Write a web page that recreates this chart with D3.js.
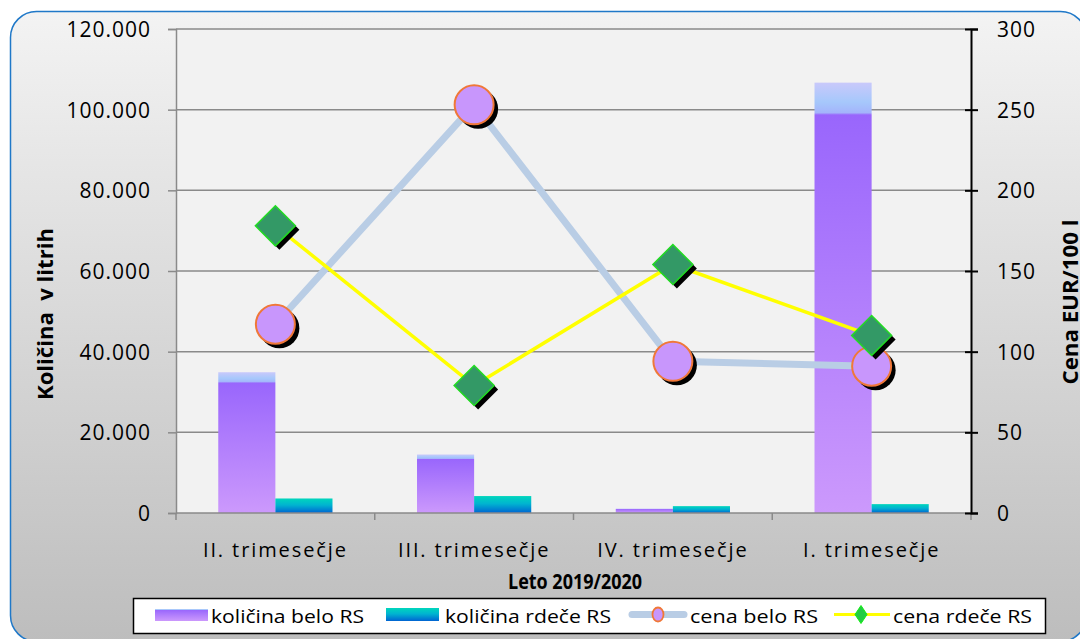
<!DOCTYPE html>
<html>
<head>
<meta charset="utf-8">
<script src="https://cdn.jsdelivr.net/npm/d3@7"></script>
<style>
  body { margin: 0; background: #ffffff; }
  svg text { font-family: "Open Sans", "Noto Sans", sans-serif; fill: #000; }
  .tick text { font-size: 21px; letter-spacing: 1px; }
  .cat-label { font-size: 20px; letter-spacing: 1.9px; }
  .axis-title { font-size: 21px; font-weight: bold; }
  .legend text { font-size: 19px; }
</style>
</head>
<body>
<div id="chart"></div>
<script>
// data
const categories = ["II. trimesečje", "III. trimesečje", "IV. trimesečje", "I. trimesečje"];
const kolicinaBelo = [34900, 14500, 1100, 106700];
const kolicinaRdece = [3600, 4200, 1700, 2200];
const cenaBelo = [117, 253, 94, 91];
const cenaRdece = [178, 79, 154, 110];
const leftTicks = [0, 20000, 40000, 60000, 80000, 100000, 120000];
const rightTicks = [0, 50, 100, 150, 200, 250, 300];
const seriesNames = ["količina belo RS", "količina rdeče RS", "cena belo RS", "cena rdeče RS"];

const width = 1080, height = 639;
const plot = { left: 176, right: 971, top: 29, bottom: 513 };

const svg = d3.select("#chart").append("svg")
    .attr("width", width)
    .attr("height", height);

const defs = svg.append("defs");

// background gradient of the chart frame
const bg = defs.append("linearGradient").attr("id", "bg").attr("x1", 0).attr("y1", 0).attr("x2", 0).attr("y2", 1);
bg.append("stop").attr("offset", 0).attr("stop-color", "#f3f3f3");
bg.append("stop").attr("offset", 1).attr("stop-color", "#bdbdbd");

// purple bar (highlight strip on top)
const gBelo = defs.append("linearGradient").attr("id", "gBelo").attr("x1", 0).attr("y1", 0).attr("x2", 0).attr("y2", 1);
[[0, "#c9c9fb"], [0.045, "#a6c8fb"], [0.07, "#a4b4fb"], [0.075, "#9966fc"], [1, "#cc99fc"]].forEach(s =>
    gBelo.append("stop").attr("offset", s[0]).attr("stop-color", s[1]));

// teal/blue bar
const gRdece = defs.append("linearGradient").attr("id", "gRdece").attr("x1", 0).attr("y1", 0).attr("x2", 0).attr("y2", 1);
[[0, "#00d6bc"], [0.45, "#00b4d0"], [1, "#0064d2"]].forEach(s =>
    gRdece.append("stop").attr("offset", s[0]).attr("stop-color", s[1]));

const shadow = defs.append("filter").attr("id", "blur").attr("x", "-50%").attr("y", "-50%").attr("width", "200%").attr("height", "200%");
shadow.append("feGaussianBlur").attr("stdDeviation", 0.7);

// frame
svg.append("rect")
    .attr("x", 10.5).attr("y", 11.5)
    .attr("width", 1076).attr("height", 630)
    .attr("rx", 26)
    .attr("fill", "url(#bg)")
    .attr("stroke", "#1f78c8")
    .attr("stroke-width", 1.5);

// plot area
svg.append("rect")
    .attr("x", plot.left).attr("y", plot.top)
    .attr("width", plot.right - plot.left).attr("height", plot.bottom - plot.top)
    .attr("fill", "#f2f2f2");

// scales
const x = d3.scaleBand()
    .domain(categories)
    .range([plot.left, plot.right])
    .padding(0);

const xSub = d3.scaleBand()
    .domain(["belo", "rdece"])
    .range([0, x.step()])
    .paddingInner(0)
    .paddingOuter(0.74);

const yLeft = d3.scaleLinear()
    .domain([0, 120000])
    .range([plot.bottom, plot.top]);

const yRight = d3.scaleLinear()
    .domain([0, 300])
    .range([plot.bottom, plot.top]);

const fmt = d3.formatLocale({ decimal: ",", thousands: ".", grouping: [3], currency: ["", " €"] }).format(",d");

// gridlines
svg.append("g")
    .selectAll("line")
    .data(leftTicks.slice(1))
    .join("line")
    .attr("x1", plot.left).attr("x2", plot.right)
    .attr("y1", d => yLeft(d)).attr("y2", d => yLeft(d))
    .attr("stroke", "#8a8a8a")
    .attr("stroke-width", 1.5);

// bars
const barData = [];
categories.forEach((c, i) => {
    barData.push({ cat: c, key: "belo", value: kolicinaBelo[i] });
    barData.push({ cat: c, key: "rdece", value: kolicinaRdece[i] });
});

svg.append("g")
    .selectAll("rect")
    .data(barData)
    .join("rect")
    .attr("x", d => x(d.cat) + xSub(d.key))
    .attr("width", xSub.bandwidth())
    .attr("y", d => yLeft(d.value))
    .attr("height", d => yLeft(0) - yLeft(d.value))
    .attr("fill", d => d.key === "belo" ? "url(#gBelo)" : "url(#gRdece)");

// left axis
const leftAxis = d3.axisLeft(yLeft)
    .tickValues(leftTicks)
    .tickSize(8)
    .tickPadding(17)
    .tickFormat(d => fmt(d));

const gl = svg.append("g")
    .attr("transform", `translate(${plot.left},0)`)
    .call(leftAxis);
gl.select(".domain").attr("stroke", "#8a8a8a").attr("stroke-width", 1.5);
gl.selectAll(".tick line").attr("stroke", "#8a8a8a").attr("stroke-width", 1.5);
gl.selectAll(".tick text").attr("font-family", null).attr("font-size", null).attr("dy", "0.36em");

// bottom axis (ticks between categories)
svg.append("line")
    .attr("x1", plot.left).attr("x2", plot.right)
    .attr("y1", plot.bottom).attr("y2", plot.bottom)
    .attr("stroke", "#8a8a8a").attr("stroke-width", 1.5);

const boundaries = categories.map(c => x(c)).concat([plot.right]);
svg.append("g")
    .selectAll("line")
    .data(boundaries)
    .join("line")
    .attr("x1", d => d).attr("x2", d => d)
    .attr("y1", plot.bottom).attr("y2", plot.bottom + 7)
    .attr("stroke", "#8a8a8a").attr("stroke-width", 1.5);

svg.append("g")
    .selectAll("text")
    .data(categories)
    .join("text")
    .attr("class", "cat-label")
    .attr("x", d => x(d) + x.bandwidth() / 2)
    .attr("y", 557)
    .attr("text-anchor", "middle")
    .text(d => d);

// right axis
const rightAxis = d3.axisRight(yRight)
    .tickValues(rightTicks)
    .tickSize(7)
    .tickPadding(19);

const gr = svg.append("g")
    .attr("transform", `translate(${plot.right},0)`)
    .call(rightAxis);
gr.select(".domain").attr("stroke", "#000").attr("stroke-width", 2);
gr.selectAll(".tick line").attr("x1", -6).attr("stroke", "#000").attr("stroke-width", 2);
gr.selectAll(".tick text").attr("font-family", null).attr("font-size", null).attr("dy", "0.36em");

// axis titles
svg.append("text")
    .attr("class", "axis-title")
    .attr("transform", "translate(53,314) rotate(-90)")
    .attr("text-anchor", "middle")
    .attr("xml:space", "preserve")
    .attr("textLength", 172)
    .attr("lengthAdjust", "spacingAndGlyphs")
    .text("Količina  v litrih");

svg.append("text")
    .attr("class", "axis-title")
    .attr("transform", "translate(1078,302) rotate(-90)")
    .attr("text-anchor", "middle")
    .attr("textLength", 165)
    .attr("lengthAdjust", "spacingAndGlyphs")
    .text("Cena EUR/100 l");

svg.append("text")
    .attr("class", "axis-title")
    .attr("x", 575).attr("y", 589)
    .attr("text-anchor", "middle")
    .attr("textLength", 134)
    .attr("lengthAdjust", "spacingAndGlyphs")
    .text("Leto 2019/2020");

// lines
const cx = c => x(c) + x.bandwidth() / 2;
const line = vals => d3.line()
    .x((d, i) => cx(categories[i]))
    .y(d => yRight(d))(vals);

svg.append("path")
    .attr("d", line(cenaBelo))
    .attr("fill", "none")
    .attr("stroke", "#b9cde5")
    .attr("stroke-width", 7)
    .attr("stroke-linejoin", "round");

const belo = svg.append("g").selectAll("g")
    .data(cenaBelo)
    .join("g")
    .attr("transform", (d, i) => `translate(${cx(categories[i])},${yRight(d)})`);
belo.append("circle").attr("cx", 4).attr("cy", 4).attr("r", 20).attr("fill", "#000").attr("filter", "url(#blur)");
belo.append("circle").attr("r", 19.5).attr("fill", "#c896fc").attr("stroke", "#f07838").attr("stroke-width", 2);

svg.append("path")
    .attr("d", line(cenaRdece))
    .attr("fill", "none")
    .attr("stroke", "#ffff00")
    .attr("stroke-width", 3.5);

const diamond = "M0,-20L20,0L0,20L-20,0Z";
const rdece = svg.append("g").selectAll("g")
    .data(cenaRdece)
    .join("g")
    .attr("transform", (d, i) => `translate(${cx(categories[i])},${yRight(d)})`);
rdece.append("path").attr("d", diamond).attr("transform", "translate(4,4)").attr("fill", "#000").attr("filter", "url(#blur)");
rdece.append("path").attr("d", diamond).attr("fill", "#339966").attr("stroke", "#22dd22").attr("stroke-width", 1.5);

// legend
const legend = svg.append("g").attr("class", "legend");
legend.append("rect")
    .attr("x", 133.5).attr("y", 598.5)
    .attr("width", 912).attr("height", 35)
    .attr("fill", "#fff")
    .attr("stroke", "#000")
    .attr("stroke-width", 1.5);

const swatchX = [155, 386, 629, 834];
const textX = [211, 445, 690, 893];
const textW = [153, 166, 128, 139];

legend.append("rect").attr("x", swatchX[0]).attr("y", 609).attr("width", 53).attr("height", 12).attr("fill", "url(#gBelo)");
legend.append("rect").attr("x", swatchX[1]).attr("y", 608).attr("width", 53).attr("height", 13).attr("fill", "url(#gRdece)");

legend.append("line")
    .attr("x1", swatchX[2] + 3).attr("x2", swatchX[2] + 55)
    .attr("y1", 614.5).attr("y2", 614.5)
    .attr("stroke", "#b9cde5").attr("stroke-width", 7).attr("stroke-linecap", "round");
legend.append("ellipse").attr("cx", swatchX[2] + 29).attr("cy", 614.5).attr("rx", 5.5).attr("ry", 7)
    .attr("fill", "#c896fc").attr("stroke", "#f07838").attr("stroke-width", 1.8);

legend.append("line")
    .attr("x1", swatchX[3]).attr("x2", swatchX[3] + 56)
    .attr("y1", 614.5).attr("y2", 614.5)
    .attr("stroke", "#ffff00").attr("stroke-width", 3);
legend.append("path").attr("d", "M0,-9L6,0L0,9L-6,0Z")
    .attr("transform", `translate(${swatchX[3] + 27},614.5)`)
    .attr("fill", "#22cc44").attr("stroke", "#11ee11");

legend.selectAll("text.lbl")
    .data(seriesNames)
    .join("text")
    .attr("class", "lbl")
    .attr("x", (d, i) => textX[i])
    .attr("y", 623)
    .attr("textLength", (d, i) => textW[i])
    .attr("lengthAdjust", "spacingAndGlyphs")
    .text(d => d);
</script>
</body>
</html>
